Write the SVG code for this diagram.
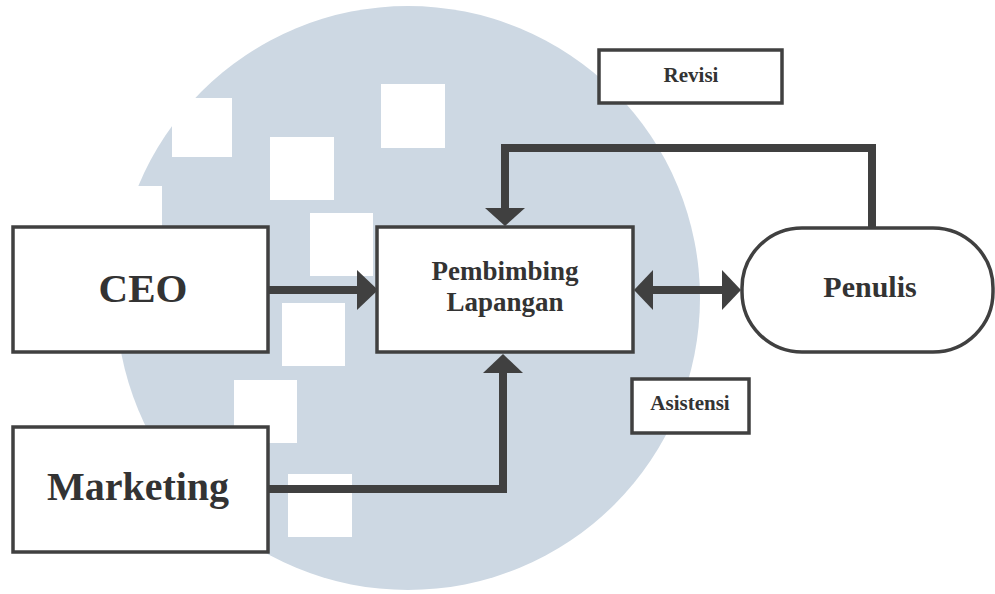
<svg xmlns="http://www.w3.org/2000/svg" width="995" height="594" viewBox="0 0 995 594">
<style>
.box{fill:#fff;stroke:#404040;stroke-width:3.5}
.lbl{fill:#fff;stroke:#404040;stroke-width:3.5}
.t{font-family:"Liberation Serif","Times New Roman",serif;font-weight:bold;fill:#333;text-anchor:middle}
.ln{fill:none;stroke:#404040;stroke-width:8}
.ah{fill:#404040}
</style>
<rect width="995" height="594" fill="#fff"/>
<g id="watermark">
<circle cx="408" cy="298" r="292" fill="#cdd8e3"/>
<rect x="0" y="186" width="162" height="60" fill="#fff"/>
<rect x="172" y="98" width="60" height="59" fill="#fff"/>
<rect x="270" y="137" width="64" height="63" fill="#fff"/>
<rect x="381" y="84" width="64" height="64" fill="#fff"/>
<rect x="310" y="213" width="63" height="63" fill="#fff"/>
<rect x="282" y="303" width="63" height="63" fill="#fff"/>
<rect x="234" y="380" width="63" height="63" fill="#fff"/>
<rect x="288" y="474" width="64" height="63" fill="#fff"/>
</g>
<g id="connectors">
<line class="ln" x1="269" y1="290" x2="360" y2="290"/>
<polygon class="ah" points="357,270 378,290 357,310"/>
<polyline class="ln" points="269,489 503,489 503,370"/>
<polygon class="ah" points="483,373 503,354 523,373"/>
<polyline class="ln" points="872,227 872,148 505,148 505,212"/>
<polygon class="ah" points="485,208 505,226 525,208"/>
<line class="ln" x1="650" y1="290" x2="726" y2="290"/>
<polygon class="ah" points="653,270 634,290 653,310"/>
<polygon class="ah" points="722,270 741,290 722,310"/>
</g>
<g id="ceo">
<rect class="box" x="13" y="227" width="255" height="125"/>
<text class="t" x="143" y="302" font-size="41">CEO</text>
</g>
<g id="marketing">
<rect class="box" x="13" y="427" width="255" height="125"/>
<text class="t" x="138" y="500" font-size="40">Marketing</text>
</g>
<g id="pembimbing">
<rect class="box" x="377" y="227" width="256" height="125"/>
<text class="t" x="505" y="280" font-size="27">Pembimbing</text>
<text class="t" x="505" y="311" font-size="27">Lapangan</text>
</g>
<g id="penulis">
<rect class="box" x="742" y="228" width="251" height="124" rx="60" ry="60"/>
<text class="t" x="870" y="297" font-size="30">Penulis</text>
</g>
<g id="revisi">
<rect class="lbl" x="599" y="50" width="183" height="53"/>
<text class="t" x="691" y="82" font-size="21">Revisi</text>
</g>
<g id="asistensi">
<rect class="lbl" x="632" y="379" width="117" height="54"/>
<text class="t" x="690" y="410" font-size="21">Asistensi</text>
</g>
</svg>
